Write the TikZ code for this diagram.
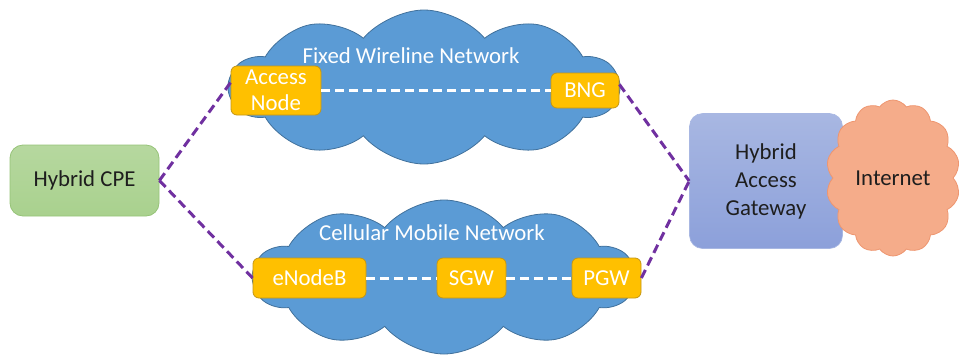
\documentclass[tikz,border=0pt]{standalone}
\usepackage{fontspec}
\setmainfont{Carlito}
\usetikzlibrary{shapes.symbols,positioning}
\definecolor{netblue}{RGB}{91,155,213}
\definecolor{netblueline}{RGB}{65,113,156}
\definecolor{boxorange}{RGB}{255,192,0}
\definecolor{boxorangeline}{RGB}{196,150,20}
\definecolor{cpegreen}{RGB}{169,209,142}
\definecolor{cpegreenline}{RGB}{150,195,120}
\definecolor{gwtop}{RGB}{168,183,226}
\definecolor{gwbottom}{RGB}{140,160,218}
\definecolor{inetsalmon}{RGB}{245,172,138}
\definecolor{inetline}{RGB}{238,150,112}
\definecolor{linkpurple}{RGB}{112,48,160}
\definecolor{textdark}{RGB}{30,30,30}

\tikzset{
    bigfont/.style={font=\fontsize{22.8}{28}\selectfont},
    netcloud/.style={cloud, cloud puffs=10, cloud puff arc=100, cloud ignores aspect,
        fill=netblue, draw=netblueline, line width=0.8pt, inner sep=0pt},
    netlabel/.style={bigfont, text=white},
    elembox/.style={bigfont, text=white, fill=boxorange, draw=boxorangeline, line width=0.8pt,
        rounded corners=6pt, inner sep=0pt, align=center, minimum height=40pt},
    endbox/.style={bigfont, text=textdark, rounded corners=13pt, inner sep=0pt, align=center},
    wirelink/.style={white, line width=3pt, dash pattern=on 9pt off 5pt},
    hybridlink/.style={linkpurple, line width=3pt, dash pattern=on 9pt off 5pt},
}

\begin{document}
\begin{tikzpicture}[x=1pt, y=-1pt]
\useasboundingbox (0,0) rectangle (964,354);

% the two access networks
\node[netcloud, minimum width=388pt, minimum height=154pt] (fixed) at (424,87) {};
\node[netcloud, minimum width=380pt, minimum height=154pt] (cell) at (444,277) {};
\node[netlabel] (fixedlbl) at (411,56) {Fixed Wireline Network};
\node[netlabel] (celllbl) at (432,233) {Cellular Mobile Network};

\node[elembox, minimum width=90pt, minimum height=49pt] (access) at (276,90.5) {Access\\[-2pt]Node};
\node[elembox, minimum width=68pt, minimum height=35pt] (bng) at (585,90.5) {BNG};
\node[elembox, minimum width=113pt] (enb) at (309.5,278) {eNodeB};
\node[elembox, minimum width=69pt] (sgw) at (471.5,278) {SGW};
\node[elembox, minimum width=69pt] (pgw) at (606.5,278) {PGW};

% end points
\node[endbox, top color=cpegreen!85!white, bottom color=cpegreen, draw=cpegreenline, line width=0.8pt,
    minimum width=149pt, minimum height=71pt] (cpe) at (84.5,180.5) {Hybrid CPE};
\node[endbox, top color=gwtop, bottom color=gwbottom, draw=gwtop, line width=0.6pt,
    minimum width=153pt, minimum height=135pt] (hag) at (766,181) {Hybrid\\Access\\Gateway};
\node[cloud, cloud puffs=14, cloud puff arc=110, cloud ignores aspect, bigfont, text=textdark,
    fill=inetsalmon, draw=inetline, line width=0.8pt, inner sep=0pt,
    minimum width=134pt, minimum height=156pt] (inet) at (893,178) {Internet};

% links inside the networks
\draw[wirelink] (access.east) -- (bng.west);
\draw[wirelink] (enb.east) -- (sgw.west);
\draw[wirelink] (sgw.east) -- (pgw.west);

% hybrid bonding paths
\draw[hybridlink] (cpe.east) -- (access.170);
\draw[hybridlink] (cpe.east) -- (enb.west);
\draw[hybridlink] (bng.10) -- (hag.west);
\draw[hybridlink] (pgw.east) -- (hag.west);
\end{tikzpicture}
\end{document}
